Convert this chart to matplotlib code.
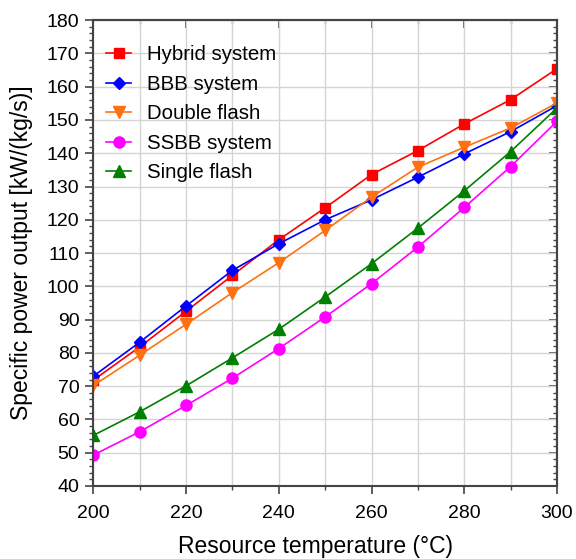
import matplotlib
matplotlib.use("Agg")
import matplotlib.pyplot as plt
from matplotlib.ticker import MultipleLocator

plt.rcParams['font.family'] = ['Liberation Sans', 'DejaVu Sans']

temp = [200, 210, 220, 230, 240, 250, 260, 270, 280, 290, 300]
hybrid = [71.8, 81.8, 92.5, 103.3, 114.0, 123.6, 133.6, 140.8, 148.8, 156.1, 165.4]
bbb = [73.0, 83.2, 94.1, 104.8, 112.8, 120.0, 126.0, 132.8, 139.8, 146.5, 154.3]
double_flash = [70.2, 79.3, 88.6, 98.1, 107.1, 116.8, 126.8, 135.8, 141.8, 147.6, 155.1]
ssbb = [49.3, 56.3, 64.2, 72.4, 81.3, 90.8, 100.8, 111.8, 123.7, 136.0, 149.6]
single_flash = [55.2, 62.3, 70.1, 78.5, 87.1, 96.8, 106.8, 117.5, 128.7, 140.5, 153.6]

spine_col = "#444444"

fig = plt.figure(figsize=(5.76, 5.59), dpi=100)
ax = fig.add_axes([0.162, 0.1306, 0.805, 0.8334])

ax.plot(temp, hybrid, color="#ff0000", marker="s", ms=6.5, lw=1.2, label="Hybrid system")
ax.plot(temp, bbb, color="#0000ff", marker="D", ms=6.5, lw=1.2, label="BBB system")
ax.plot(temp, double_flash, color="#ff7010", marker="v", ms=8, lw=1.2, label="Double flash")
ax.plot(temp, ssbb, color="#ff00ff", marker="o", ms=8, lw=1.2, label="SSBB system")
ax.plot(temp, single_flash, color="#008000", marker="^", ms=8, lw=1.2, label="Single flash")

ax.set_xlim(200, 300)
ax.set_ylim(40, 180)
ax.xaxis.set_major_locator(MultipleLocator(20))
ax.xaxis.set_minor_locator(MultipleLocator(10))
ax.yaxis.set_major_locator(MultipleLocator(10))
ax.yaxis.set_minor_locator(MultipleLocator(2))
ax.grid(True, which="major", color="#d4d4d4", lw=1)
ax.xaxis.grid(True, which="minor", color="#d4d4d4", lw=1)
ax.set_axisbelow(True)

for s in ax.spines.values():
    s.set_color(spine_col)
    s.set_linewidth(1.5)

# bottom / left: ticks outward
ax.tick_params(which="major", direction="out", length=6, width=1.2, color=spine_col,
               labelsize=14)
ax.tick_params(axis="x", which="major", pad=8)
ax.tick_params(axis="y", which="major", pad=4)
ax.tick_params(which="minor", direction="out", length=3, width=1, color=spine_col)

# top / right: mirror ticks pointing inward
top = ax.secondary_xaxis("top")
top.xaxis.set_major_locator(MultipleLocator(20))
top.xaxis.set_minor_locator(MultipleLocator(10))
top.tick_params(which="major", direction="in", length=6, width=1.2, color=spine_col,
                labeltop=False)
top.tick_params(which="minor", direction="in", length=3, width=1, color=spine_col)
top.spines["top"].set_color(spine_col)
top.spines["top"].set_linewidth(1.5)

right = ax.secondary_yaxis("right")
right.yaxis.set_major_locator(MultipleLocator(10))
right.yaxis.set_minor_locator(MultipleLocator(2))
right.tick_params(which="major", direction="in", length=6, width=1.2, color=spine_col,
                  labelright=False)
right.tick_params(which="minor", direction="in", length=3, width=1, color=spine_col)
right.spines["right"].set_color(spine_col)
right.spines["right"].set_linewidth(1.5)

ax.set_xlabel("Resource temperature (°C)", fontsize=16.5, labelpad=9)
ax.set_ylabel("Specific power output [kW/(kg/s)]", fontsize=16.5, labelpad=10)
ax.xaxis.label.set_x(0.48)

ax.legend(loc="upper left", frameon=False, fontsize=14.7, handlelength=1.2,
          handletextpad=0.8, borderaxespad=0, borderpad=0, labelspacing=0.515,
          bbox_to_anchor=(0.028, 0.946))

fig.savefig("out.png", dpi=100)
